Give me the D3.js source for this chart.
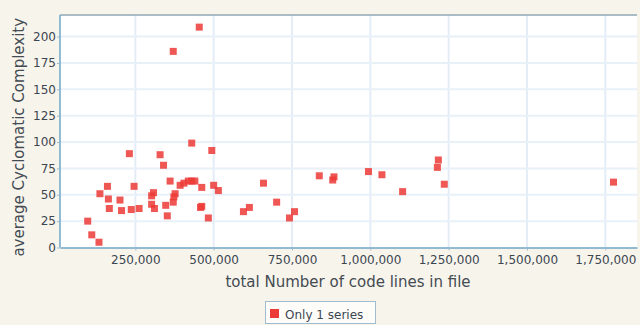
<!DOCTYPE html>
<html>
<head>
<meta charset="utf-8">
<script src="https://cdn.jsdelivr.net/npm/d3@7"></script>
<style>
  html, body { margin: 0; padding: 0; background: #f7f4ec; }
  svg { display: block; }
  text { font-family: "DejaVu Sans", sans-serif; }
</style>
</head>
<body>
<script>
// ---- data (x: total code lines, y: average cyclomatic complexity) ----
const linesOfCode = [
  98000, 111000, 134000, 137000, 161000, 164000, 167000, 201000, 206000, 231000,
  246000, 237000, 262000, 302000, 308000, 302000, 311000, 329000, 340000, 347000,
  352000, 361000, 377000, 371000, 373000, 393000, 405000, 419000, 430000, 440000,
  430000, 371000, 454000, 462000, 462000, 458000, 483000, 494000, 500000, 515000,
  595000, 614000, 659000, 701000, 742000, 758000, 837000, 880000, 884000, 994000,
  1037000, 1103000, 1217000, 1214000, 1236000, 1776000
];
const complexity = [
  25, 12, 5, 51, 58, 46, 37, 45, 35, 89,
  58, 36, 37, 49, 52, 41, 37, 88, 78, 40,
  30, 63, 51, 43, 48, 59, 61, 63, 63, 63,
  99, 186, 209, 57, 39, 38, 28, 92, 59, 54,
  34, 38, 61, 43, 28, 34, 68, 64, 67, 72,
  69, 53, 83, 76, 60, 62
];
const xTicks = [250000, 500000, 750000, 1000000, 1250000, 1500000, 1750000];
const yTicks = [0, 25, 50, 75, 100, 125, 150, 175, 200];
const seriesName = "Only 1 series";
const xTitle = "total Number of code lines in file";
const yTitle = "average Cyclomatic Complexity";

const W = 640, H = 325;
const plot = { left: 60, top: 15, right: 637, bottom: 247.5 };

const svg = d3.select("body").append("svg").attr("width", W).attr("height", H);
svg.append("rect").attr("width", W).attr("height", H).attr("fill", "#f7f4ec");

const x = d3.scaleLinear().domain([9600, 1851000]).range([plot.left, plot.right]);
const y = d3.scaleLinear().domain([0, 220.5]).range([plot.bottom, plot.top]);

// plot background
svg.append("rect")
  .attr("x", plot.left).attr("y", plot.top)
  .attr("width", plot.right - plot.left).attr("height", plot.bottom - plot.top)
  .attr("fill", "#ffffff");

// gridlines
svg.append("g").selectAll("line").data(xTicks).join("line")
  .attr("x1", d => x(d)).attr("x2", d => x(d))
  .attr("y1", plot.top).attr("y2", plot.bottom)
  .attr("stroke", "#e4edf7").attr("stroke-width", 2);
svg.append("g").selectAll("line").data(yTicks.filter(d => d > 0)).join("line")
  .attr("x1", plot.left).attr("x2", plot.right)
  .attr("y1", d => y(d)).attr("y2", d => y(d))
  .attr("stroke", "#e8f0f8").attr("stroke-width", 2);

// top border
svg.append("line").attr("x1", plot.left).attr("x2", plot.right)
  .attr("y1", plot.top).attr("y2", plot.top)
  .attr("stroke", "#8fa9b6").attr("stroke-width", 1.5);

// axes
const xAxis = d3.axisBottom(x).tickValues(xTicks).tickSize(3).tickSizeOuter(0)
  .tickFormat(d3.format(","));
const gx = svg.append("g").attr("transform", `translate(0,${plot.bottom})`).call(xAxis);
gx.select(".domain").attr("stroke", "#6fa6c9").attr("stroke-width", 1.5);
gx.selectAll(".tick line").attr("stroke", "#9bbad0");
gx.selectAll("text").attr("font-size", 12).attr("fill", "#3c4650")
  .attr("font-family", "DejaVu Sans").attr("dy", "0.9em");

const yAxis = d3.axisLeft(y).tickValues(yTicks).tickSize(3).tickSizeOuter(0);
const gy = svg.append("g").attr("transform", `translate(${plot.left},0)`).call(yAxis);
gy.select(".domain").attr("stroke", "#6fa6c9").attr("stroke-width", 1.5)
  .attr("d", `M0,${plot.top}V${plot.bottom}`);
gy.selectAll(".tick line").attr("stroke", "#9bbad0");
gy.selectAll("text").attr("font-size", 12).attr("fill", "#3c4650")
  .attr("font-family", "DejaVu Sans").attr("x", -4);

// axis titles
svg.append("text")
  .attr("x", (plot.left + plot.right) / 2 - 0.5).attr("y", 287)
  .attr("text-anchor", "middle").attr("font-size", 15).attr("fill", "#444b52")
  .text(xTitle);
svg.append("text")
  .attr("transform", `translate(24,${(plot.top + plot.bottom) / 2 + 6}) rotate(-90)`)
  .attr("text-anchor", "middle").attr("font-size", 15).attr("fill", "#444b52")
  .text(yTitle);

// points
const pts = linesOfCode.map((v, i) => ({ x: v, y: complexity[i] }));
const S = 7;
svg.append("g").selectAll("rect").data(pts).join("rect")
  .attr("x", d => x(d.x) - S / 2).attr("y", d => y(d.y) - S / 2)
  .attr("width", S).attr("height", S)
  .attr("fill", "#ec3a36").attr("fill-opacity", 0.85);

// legend
const lg = svg.append("g");
lg.append("rect").attr("x", 265.5).attr("y", 301.5).attr("width", 110).attr("height", 22)
  .attr("fill", "#fdfcf8").attr("stroke", "#9fbcd0");
lg.append("rect").attr("x", 270).attr("y", 309).attr("width", 9).attr("height", 9)
  .attr("fill", "#ec3a36");
lg.append("text").attr("x", 285).attr("y", 318.5)
  .attr("font-size", 12).attr("fill", "#3c4650").text(seriesName);
</script>
</body>
</html>
